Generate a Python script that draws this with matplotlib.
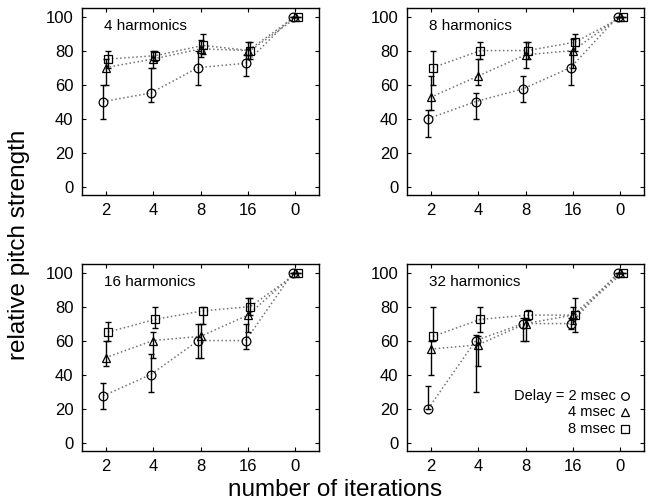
import matplotlib
matplotlib.use("Agg")
import matplotlib.pyplot as plt
import numpy as np

plt.rcParams['font.family'] = ['Liberation Sans', 'DejaVu Sans']

"""
DANE
"""
iterations = ['2', '4', '8', '16', '0']
panels = ['4 harmonics', '8 harmonics', '16 harmonics', '32 harmonics']
delays = ['2 msec', '4 msec', '8 msec']
markers = ['o', '^', 's']
offsets = [-0.05, 0.0, 0.05]

# panel 1: 4 harmonics
h4_y = [[50, 55, 70, 72.5, 100], [70, 75, 81, 80, 100], [75, 77, 83, 80, 100]]
h4_lo = [[10, 5, 10, 7.5, 0], [10, 5, 5, 5, 0], [5, 3, 5, 5, 0]]
h4_hi = [[10, 15, 10, 5, 0], [5, 5, 5, 5, 0], [5, 3, 7, 5, 0]]

# panel 2: 8 harmonics
h8_y = [[40, 50, 57.5, 70, 100], [52.5, 65, 77.5, 80, 100], [70, 80, 80, 85, 100]]
h8_lo = [[11, 10, 7.5, 10, 0], [7.5, 5, 7.5, 10, 0], [10, 5, 5, 5, 0]]
h8_hi = [[5, 5, 7.5, 10, 0], [12.5, 10, 7.5, 7, 0], [10, 5, 5, 5, 0]]

# panel 3: 16 harmonics
h16_y = [[27.5, 40, 60, 60, 100], [50, 60, 62.5, 75, 100], [65, 72.5, 77.5, 80, 100]]
h16_lo = [[7.5, 10, 10, 5, 0], [5, 10, 12.5, 10, 0], [5, 5, 7.5, 5, 0]]
h16_hi = [[7.5, 12, 10, 10, 0], [10, 5, 7.5, 10, 0], [6, 7.5, 2.5, 5, 0]]

# panel 4: 32 harmonics
h32_y = [[20, 60, 70, 70, 100], [55, 57.5, 70, 75, 100], [62.5, 72.5, 75, 75, 100]]
h32_lo = [[0, 30, 10, 3, 0], [15, 12.5, 10, 5, 0], [3, 7.5, 3, 10, 0]]
h32_hi = [[13, 3, 3, 3, 0], [5, 5, 3, 5, 0], [17.5, 7.5, 3, 10, 0]]

all_y = [h4_y, h8_y, h16_y, h32_y]
all_lo = [h4_lo, h8_lo, h16_lo, h32_lo]
all_hi = [h4_hi, h8_hi, h16_hi, h32_hi]

"""
WYKRESY
"""
fig = plt.figure(figsize=(6.5, 5.04), dpi=100)
rects = [[0.126, 0.613, 0.365, 0.371], [0.626, 0.613, 0.365, 0.371],
         [0.126, 0.105, 0.365, 0.371], [0.626, 0.105, 0.365, 0.371]]

x = np.arange(1, len(iterations) + 1)

for p in range(4):
    ax = fig.add_axes(rects[p])
    for s in range(3):
        xs = x + offsets[s]
        ys = np.array(all_y[p][s])
        ax.plot(xs, ys, linestyle=':', color='0.45', linewidth=1.1, zorder=1)
        ax.errorbar(xs, ys, yerr=[all_lo[p][s], all_hi[p][s]], fmt='none',
                    ecolor='black', elinewidth=1.0, capsize=2, capthick=1, zorder=2)
        ax.plot(xs, ys, linestyle='none', marker=markers[s], markersize=6.3,
                markerfacecolor='none', markeredgecolor='black',
                markeredgewidth=0.9, zorder=3)
    ax.set_xlim(0.5, 5.5)
    ax.set_ylim(-5, 105)
    ax.set_xticks(x)
    ax.set_xticklabels(iterations)
    ax.set_yticks(np.arange(0, 101, 20))
    ax.tick_params(direction='in', length=3, width=0.8, top=True, right=True,
                   labelsize=12, pad=6)
    for sp in ax.spines.values():
        sp.set_linewidth(1.0)
    ax.text(0.97, 94.5, panels[p], fontsize=11, ha='left', va='center')

    if p == 3:
        ty = [27.5, 18, 8]
        lbl = ['Delay = ' + delays[0], delays[1], delays[2]]
        for i in range(3):
            ax.text(4.9, ty[i], lbl[i], fontsize=10.5, ha='right', va='center')
            ax.plot(5.1, ty[i], linestyle='none', marker=markers[i], markersize=5.5,
                    markerfacecolor='none', markeredgecolor='black',
                    markeredgewidth=0.9)

fig.text(0.03, 0.514, 'relative pitch strength', fontsize=17.5,
         rotation=90, ha='center', va='center')
fig.text(0.516, 0.028, 'number of iterations', fontsize=17.5,
         ha='center', va='center')

fig.savefig('out.png', dpi=100)
